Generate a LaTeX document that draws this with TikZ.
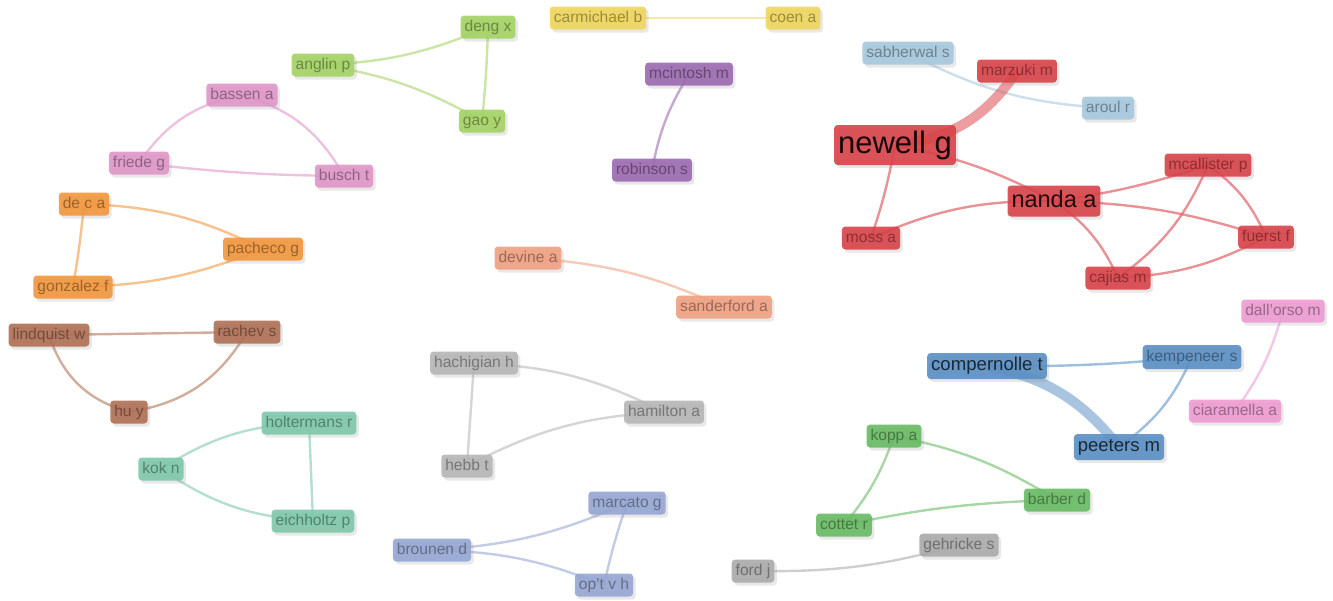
\documentclass[tikz,border=0pt]{standalone}
\usepackage{fontspec}
\setmainfont{Liberation Sans}
\usetikzlibrary{shadows}
\pgfdeclarelayer{bg}
\pgfsetlayers{bg,main}
\definecolor{cred}{RGB}{216,66,72}
\definecolor{cblue}{RGB}{90,143,196}
\definecolor{clblue}{RGB}{166,200,220}
\definecolor{cgreen}{RGB}{104,186,100}
\definecolor{cygreen}{RGB}{164,210,100}
\definecolor{cyellow}{RGB}{240,214,92}
\definecolor{cpurple}{RGB}{155,105,175}
\definecolor{cpink}{RGB}{222,150,200}
\definecolor{cpinkb}{RGB}{238,155,210}
\definecolor{corange}{RGB}{242,150,60}
\definecolor{cbrown}{RGB}{175,112,85}
\definecolor{cteal}{RGB}{125,200,170}
\definecolor{csalmon}{RGB}{240,160,130}
\definecolor{cgray}{RGB}{182,182,182}
\definecolor{cgrayb}{RGB}{170,170,170}
\definecolor{clav}{RGB}{150,166,210}
\begin{document}
\begin{tikzpicture}[x=1pt,y=-1pt,
  au/.style={rounded corners=3.5pt, inner xsep=4pt, inner ysep=0pt,
    minimum height=23pt, font=\fontsize{15.6}{15.6}\selectfont,
    text height=11.2pt, text depth=3.2pt,
    fill=#1, fill opacity=0.9, text=#1!50!black, text opacity=0.7,
    drop shadow={opacity=0.18, shadow xshift=2.5pt, shadow yshift=-3pt}},
  big/.style={font=\fontsize{#1}{#1}\selectfont, text height=0.72*#1pt,
    text depth=0.2*#1pt},
  ed/.style={draw=#1!80!white, line width=2.4pt, draw opacity=0.72},
  thick ed/.style={draw=#1!80!white, line width=10pt, draw opacity=0.65}]
\useasboundingbox (0,0) rectangle (1333,600);

% nodes
\node[au=cyellow] (carmichael) at (598,18) {carmichael b};
\node[au=cyellow] (coen) at (793,18) {coen a};
\node[au=cygreen] (deng) at (488,27) {deng x};
\node[au=cygreen] (anglin) at (323,65) {anglin p};
\node[au=cygreen] (gao) at (482,121) {gao y};
\node[au=cpurple] (mcintosh) at (689,74) {mcintosh m};
\node[au=cpurple] (robinson) at (652,170) {robinson s};
\node[au=cpink] (bassen) at (242,95) {bassen a};
\node[au=cpink] (friede) at (139,163) {friede g};
\node[au=cpink] (busch) at (344,176) {busch t};
\node[au=corange] (deca) at (84,204) {de c a};
\node[au=corange] (pacheco) at (263,249) {pacheco g};
\node[au=corange] (gonzalez) at (73,287) {gonzalez f};
\node[au=cbrown] (lindquist) at (49,335) {lindquist w};
\node[au=cbrown] (rachev) at (247,332) {rachev s};
\node[au=cbrown] (hu) at (129,412) {hu y};
\node[au=cteal] (holtermans) at (309,423) {holtermans r};
\node[au=cteal] (kok) at (161,469) {kok n};
\node[au=cteal] (eichholtz) at (313,521) {eichholtz p};
\node[au=csalmon] (devine) at (528,258) {devine a};
\node[au=csalmon] (sanderford) at (724,307) {sanderford a};
\node[au=cgray] (hachigian) at (474,363) {hachigian h};
\node[au=cgray] (hamilton) at (664,412) {hamilton a};
\node[au=cgray] (hebb) at (467,466) {hebb t};
\node[au=clav] (marcato) at (627,503) {marcato g};
\node[au=clav] (brounen) at (432,550) {brounen d};
\node[au=clav] (opt) at (604,585) {op't v h};
\node[au=cgrayb] (ford) at (753,571) {ford j};
\node[au=cgrayb] (gehricke) at (959,545) {gehricke s};
\node[au=cgreen] (kopp) at (894,436) {kopp a};
\node[au=cgreen] (barber) at (1057,500) {barber d};
\node[au=cgreen] (cottet) at (844,525) {cottet r};
\node[au=clblue] (sabherwal) at (908,53) {sabherwal s};
\node[au=cred] (marzuki) at (1017,71) {marzuki m};
\node[au=clblue] (aroul) at (1108,108) {aroul r};
\node[au=cred, big=31, minimum height=40pt, text=black, text opacity=0.9] (newell) at (895,145) {newell g};
\node[au=cred, big=23.5, minimum height=31pt, text=black, text opacity=0.85] (nanda) at (1054,201) {nanda a};
\node[au=cred] (mcallister) at (1208,165) {mcallister p};
\node[au=cred] (moss) at (871,238) {moss a};
\node[au=cred] (fuerst) at (1266,237) {fuerst f};
\node[au=cred] (cajias) at (1118,278) {cajias m};
\node[au=cpinkb] (dallorso) at (1283,311) {dall'orso m};
\node[au=cpinkb] (ciaramella) at (1235,411) {ciaramella a};
\node[au=cblue, big=18.6, minimum height=26pt, text=black!85!cblue, text opacity=0.85] (compernolle) at (987,366) {compernolle t};
\node[au=cblue, big=15.7, minimum height=24pt] (kempeneer) at (1192,357) {kempeneer s};
\node[au=cblue, big=18.5, minimum height=26pt, text=black!85!cblue, text opacity=0.85] (peeters) at (1119,447) {peeters m};

\begin{pgfonlayer}{bg}
\draw[ed=cyellow] (carmichael.center) to (coen.center);
\draw[ed=cygreen] (anglin.center) to[bend right=10] (deng.center);
\draw[ed=cygreen] (anglin.center) to[bend left=10] (gao.center);
\draw[ed=cygreen] (deng.center) to[bend left=2] (gao.center);
\draw[ed=cpurple] (mcintosh.center) to[bend right=10] (robinson.center);
\draw[ed=cpink] (bassen.center) to[bend right=22] (friede.center);
\draw[ed=cpink] (bassen.center) to[bend left=22] (busch.center);
\draw[ed=cpink] (friede.center) to[bend right=3] (busch.center);
\draw[ed=corange] (deca.center) to[bend left=12] (pacheco.center);
\draw[ed=corange] (gonzalez.center) to[bend right=10] (pacheco.center);
\draw[ed=corange] (deca.center) to[bend left=2] (gonzalez.center);
\draw[ed=cbrown] (lindquist.center) to (rachev.center);
\draw[ed=cbrown] (lindquist.center) to[bend right=28] (hu.center);
\draw[ed=cbrown] (hu.center) to[bend right=25] (rachev.center);
\draw[ed=cteal] (holtermans.center) to[bend right=15] (kok.center);
\draw[ed=cteal] (kok.center) to[bend right=15] (eichholtz.center);
\draw[ed=cteal] (holtermans.center) to (eichholtz.center);
\draw[ed=csalmon] (devine.center) to[bend left=10] (sanderford.center);
\draw[ed=cgray] (hachigian.center) to[bend left=12] (hamilton.center);
\draw[ed=cgray] (hachigian.center) to (hebb.center);
\draw[ed=cgray] (hebb.center) to[bend left=12] (hamilton.center);
\draw[ed=clav] (brounen.center) to[bend right=10] (marcato.center);
\draw[ed=clav] (brounen.center) to[bend left=10] (opt.center);
\draw[ed=clav] (marcato.center) to[bend right=3] (opt.center);
\draw[ed=cgrayb] (ford.center) to[bend right=8] (gehricke.center);
\draw[ed=cgreen] (kopp.center) to[bend left=10] (barber.center);
\draw[ed=cgreen] (kopp.center) to[bend left=10] (cottet.center);
\draw[ed=cgreen] (cottet.center) to[bend left=5] (barber.center);
\draw[ed=clblue] (sabherwal.center) to[bend right=12] (aroul.center);
\draw[thick ed=cred] (newell.center) to[bend right=25] (marzuki.center);
\draw[ed=cred] (newell.center) to[bend left=8] (nanda.center);
\draw[ed=cred] (newell.center) to[bend left=4] (moss.center);
\draw[ed=cred] (moss.center) to[bend left=12] (nanda.center);
\draw[ed=cred] (nanda.center) to[bend right=5] (mcallister.center);
\draw[ed=cred] (nanda.center) to[bend left=8] (fuerst.center);
\draw[ed=cred] (nanda.center) to[bend left=15] (cajias.center);
\draw[ed=cred] (mcallister.center) to[bend left=15] (cajias.center);
\draw[ed=cred] (mcallister.center) to[bend left=15] (fuerst.center);
\draw[ed=cred] (cajias.center) to[bend right=12] (fuerst.center);
\draw[ed=cblue] (compernolle.center) to[bend right=3] (kempeneer.center);
\draw[thick ed=cblue] (compernolle.center) to[bend left=20] (peeters.center);
\draw[ed=cblue] (kempeneer.center) to[bend left=15] (peeters.center);
\draw[ed=cpinkb] (dallorso.center) to[bend left=10] (ciaramella.center);
\end{pgfonlayer}
\end{tikzpicture}
\end{document}
